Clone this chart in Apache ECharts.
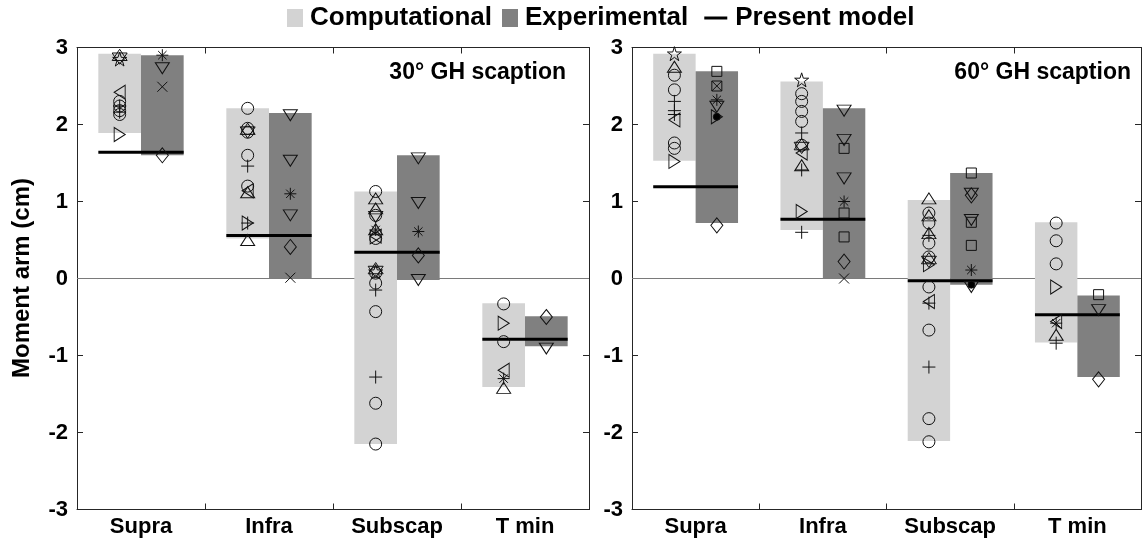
<!DOCTYPE html>
<html>
<head>
<meta charset="utf-8">
<script src="https://cdn.jsdelivr.net/npm/echarts@6/dist/echarts.min.js"></script>
<style>
  html, body { margin: 0; padding: 0; background: #fff; }
  #chart { width: 1143px; height: 539px; }
</style>
</head>
<body>
<div id="chart"></div>
<script>
// ---- data -------------------------------------------------------------
const categories = ['Supra', 'Infra', 'Subscap', 'T min'];
const yTicks = [-3, -2, -1, 0, 1, 2, 3];
const panelTitles = ['30° GH scaption', '60° GH scaption'];
const legendNames = ['Computational', 'Experimental', 'Present model'];
const yAxisTitle = 'Moment arm (cm)';

// 30° GH scaption: ranges of computational / experimental moment arms and the present model
const comp30Low  = [1.89, 0.52, -2.15, -1.41];
const comp30High = [2.92, 2.21, 1.13, -0.32];
const exp30Low   = [1.60, 0.00, -0.02, -0.88];
const exp30High  = [2.90, 2.15, 1.60, -0.49];
const model30    = [1.64, 0.56, 0.34, -0.79];

// individual studies: [muscle, marker, value]
const comp30Points = [
  ['Supra', 'hexagram', 2.88], ['Supra', 'pentagram', 2.85], ['Supra', 'triLeft', 2.42],
  ['Supra', 'circle', 2.30], ['Supra', 'circle', 2.24], ['Supra', 'circle', 2.18], ['Supra', 'circle', 2.13],
  ['Supra', 'plus', 2.24], ['Supra', 'plus', 2.16], ['Supra', 'triRight', 1.87],
  ['Infra', 'circle', 2.21], ['Infra', 'circle', 1.95], ['Infra', 'circle', 1.90], ['Infra', 'hexagram', 1.92],
  ['Infra', 'circle', 1.60], ['Infra', 'plus', 1.46], ['Infra', 'circle', 1.20], ['Infra', 'triUp', 1.12],
  ['Infra', 'triLeft', 1.14], ['Infra', 'triRight', 0.72], ['Infra', 'plus', 0.72], ['Infra', 'triUp', 0.50],
  ['Subscap', 'circle', 1.13], ['Subscap', 'triUp', 1.04], ['Subscap', 'triUp', 0.91], ['Subscap', 'circle', 0.82],
  ['Subscap', 'triDown', 0.80], ['Subscap', 'asterisk', 0.63], ['Subscap', 'triUp', 0.64], ['Subscap', 'triRight', 0.54],
  ['Subscap', 'circle', 0.52], ['Subscap', 'triLeft', 0.55], ['Subscap', 'hexagram', 0.11], ['Subscap', 'circle', 0.07],
  ['Subscap', 'pentagram', 0.09], ['Subscap', 'circle', -0.06], ['Subscap', 'plus', -0.15], ['Subscap', 'circle', -0.43],
  ['Subscap', 'plus', -1.28], ['Subscap', 'circle', -1.62], ['Subscap', 'circle', -2.15],
  ['T min', 'circle', -0.33], ['T min', 'triRight', -0.58], ['T min', 'circle', -0.82],
  ['T min', 'triLeft', -1.19], ['T min', 'asterisk', -1.30], ['T min', 'triUp', -1.42]
];
const exp30Points = [
  ['Supra', 'asterisk', 2.90], ['Supra', 'triDown', 2.73], ['Supra', 'cross', 2.49], ['Supra', 'diamond', 1.60],
  ['Infra', 'triDown', 2.12], ['Infra', 'triDown', 1.53], ['Infra', 'asterisk', 1.10], ['Infra', 'triDown', 0.82],
  ['Infra', 'diamond', 0.41], ['Infra', 'cross', 0.01],
  ['Subscap', 'triDown', 1.56], ['Subscap', 'triDown', 0.98], ['Subscap', 'asterisk', 0.61],
  ['Subscap', 'diamond', 0.30], ['Subscap', 'triDown', -0.02],
  ['T min', 'diamond', -0.50], ['T min', 'triDown', -0.91]
];

// 60° GH scaption
const comp60Low  = [1.53, 0.63, -2.11, -0.83];
const comp60High = [2.92, 2.56, 1.02, 0.73];
const exp60Low   = [0.72, 0.00, -0.08, -1.28];
const exp60High  = [2.69, 2.21, 1.37, -0.22];
const model60    = [1.19, 0.77, -0.03, -0.47];

const comp60Points = [
  ['Supra', 'pentagram', 2.92], ['Supra', 'triUp', 2.75], ['Supra', 'circle', 2.64], ['Supra', 'circle', 2.45],
  ['Supra', 'plus', 2.30], ['Supra', 'plus', 2.18], ['Supra', 'plus', 2.13], ['Supra', 'triLeft', 2.06],
  ['Supra', 'circle', 1.76], ['Supra', 'circle', 1.69], ['Supra', 'triRight', 1.52],
  ['Infra', 'pentagram', 2.58], ['Infra', 'circle', 2.40], ['Infra', 'circle', 2.30], ['Infra', 'circle', 2.17],
  ['Infra', 'circle', 2.04], ['Infra', 'plus', 1.89], ['Infra', 'circle', 1.73], ['Infra', 'hexagram', 1.72],
  ['Infra', 'triLeft', 1.63], ['Infra', 'triUp', 1.47], ['Infra', 'plus', 1.41], ['Infra', 'triRight', 0.87],
  ['Infra', 'plus', 0.60],
  ['Subscap', 'triUp', 1.04], ['Subscap', 'circle', 0.85], ['Subscap', 'triUp', 0.82], ['Subscap', 'circle', 0.72],
  ['Subscap', 'triUp', 0.59], ['Subscap', 'plus', 0.56], ['Subscap', 'circle', 0.46], ['Subscap', 'circle', 0.28],
  ['Subscap', 'hexagram', 0.24], ['Subscap', 'triRight', 0.18], ['Subscap', 'circle', -0.11], ['Subscap', 'triLeft', -0.30],
  ['Subscap', 'plus', -0.32], ['Subscap', 'circle', -0.67], ['Subscap', 'plus', -1.15], ['Subscap', 'circle', -1.82],
  ['Subscap', 'circle', -2.12],
  ['T min', 'circle', 0.72], ['T min', 'circle', 0.49], ['T min', 'circle', 0.19], ['T min', 'triRight', -0.11],
  ['T min', 'triLeft', -0.56], ['T min', 'asterisk', -0.58], ['T min', 'triUp', -0.73], ['T min', 'plus', -0.84]
];
const exp60Points = [
  ['Supra', 'square', 2.69], ['Supra', 'squareX', 2.50], ['Supra', 'asterisk', 2.32], ['Supra', 'triDown', 2.23],
  ['Supra', 'triRight', 2.10], ['Supra', 'dot', 2.10], ['Supra', 'diamond', 0.69],
  ['Infra', 'triDown', 2.18], ['Infra', 'triDown', 1.80], ['Infra', 'square', 1.69], ['Infra', 'triDown', 1.30],
  ['Infra', 'asterisk', 1.00], ['Infra', 'square', 0.85], ['Infra', 'square', 0.54], ['Infra', 'diamond', 0.22],
  ['Infra', 'cross', 0.00],
  ['Subscap', 'square', 1.37], ['Subscap', 'triDown', 1.10], ['Subscap', 'diamond', 1.08], ['Subscap', 'triDown', 0.76],
  ['Subscap', 'square', 0.73], ['Subscap', 'square', 0.43], ['Subscap', 'asterisk', 0.11], ['Subscap', 'triDown', -0.11],
  ['Subscap', 'dot', -0.08],
  ['T min', 'square', -0.21], ['T min', 'triDown', -0.41], ['T min', 'diamond', -1.31]
];

// ---- styling ----------------------------------------------------------
const FONT = '"Liberation Sans", Arial, sans-serif';
const COMP_COLOR = '#d3d3d3';
const EXP_COLOR = '#808080';
const AXIS_COLOR = '#262626';
const MARK_COLOR = '#111';
const HALF = 1 / 6;   // half width of one range bar, in category units

const SHAPES = {
  circle:    { symbol: 'circle', size: 12 },
  triUp:     { symbol: 'path://M5,0L10,9L0,9Z', size: [14, 11] },
  triDown:   { symbol: 'path://M0,0L10,0L5,9Z', size: [14, 11] },
  triRight:  { symbol: 'path://M0,0L9,5L0,10Z', size: [11, 14] },
  triLeft:   { symbol: 'path://M9,0L0,5L9,10Z', size: [11, 14] },
  diamond:   { symbol: 'path://M5,0L10,7L5,14L0,7Z', size: [12, 15] },
  square:    { symbol: 'path://M0,0L10,0L10,10L0,10Z', size: 10 },
  squareX:   { symbol: 'path://M0,0L10,0L10,10L0,10Z M0,0L10,10 M10,0L0,10', size: 10 },
  plus:      { symbol: 'path://M5,0L5,10M0,5L10,5', size: 13 },
  cross:     { symbol: 'path://M0,0L10,10M10,0L0,10', size: 10 },
  asterisk:  { symbol: 'path://M5,0L5,10M0,5L10,5M1.5,1.5L8.5,8.5M8.5,1.5L1.5,8.5', size: 12 },
  hexagram:  { symbol: 'path://M5,0L9.33,7.5L0.67,7.5Z M5,10L0.67,2.5L9.33,2.5Z', size: 15 },
  pentagram: { symbol: 'path://M5,0L6.12,3.455L9.755,3.455L6.817,5.59L7.939,9.045L5,6.91L2.061,9.045L3.183,5.59L0.245,3.455L3.877,3.455Z', size: 14 },
  dot:       { symbol: 'circle', size: 7, fill: '#000' }
};

const panels = [
  { compLow: comp30Low, compHigh: comp30High, expLow: exp30Low, expHigh: exp30High, model: model30, comp: comp30Points, exp: exp30Points },
  { compLow: comp60Low, compHigh: comp60High, expLow: exp60Low, expHigh: exp60High, model: model60, comp: comp60Points, exp: exp60Points }
];

const grids = [
  { left: 77, right: 554, top: 47.5, bottom: 29.5 },
  { left: 632, right: 2, top: 47.5, bottom: 29.5 }
];

// ---- axes -------------------------------------------------------------
const xAxes = [];
const yAxes = [];
grids.forEach((g, p) => {
  const tick = { show: true, inside: true, length: 6, alignWithLabel: false, lineStyle: { color: AXIS_COLOR, width: 1 } };
  const line = { show: true, onZero: false, lineStyle: { color: AXIS_COLOR, width: 1 } };
  xAxes.push({
    type: 'category', gridIndex: p, position: 'bottom', data: categories, boundaryGap: true,
    axisLine: line, axisTick: tick,
    axisLabel: { color: '#000', fontFamily: FONT, fontWeight: 'bold', fontSize: 22, margin: 6, interval: 0 },
    splitLine: { show: false }
  });
  xAxes.push({
    type: 'category', gridIndex: p, position: 'top', data: categories, boundaryGap: true,
    axisLine: line, axisTick: tick, axisLabel: { show: false }, splitLine: { show: false }
  });
  xAxes.push({ type: 'value', gridIndex: p, min: 0.5, max: 4.5, show: false });
  yAxes.push({
    type: 'value', gridIndex: p, position: 'left',
    min: yTicks[0], max: yTicks[yTicks.length - 1], interval: 1,
    axisLine: line, axisTick: { show: true, inside: true, length: 6, lineStyle: { color: AXIS_COLOR } },
    axisLabel: { color: '#000', fontFamily: FONT, fontWeight: 'bold', fontSize: 22, margin: 9 },
    splitLine: { show: false }
  });
  yAxes.push({
    type: 'value', gridIndex: p, position: 'right',
    min: yTicks[0], max: yTicks[yTicks.length - 1], interval: 1,
    axisLine: line, axisTick: { show: true, inside: true, length: 6, lineStyle: { color: AXIS_COLOR } },
    axisLabel: { show: false }, splitLine: { show: false }
  });
});

// ---- series -----------------------------------------------------------
function rangeBars(p, lows, highs, offset, color, name) {
  return {
    type: 'custom', name, xAxisIndex: 3 * p + 2, yAxisIndex: 2 * p, z: 2, silent: true,
    data: categories.map((c, i) => [i + 1, lows[i], highs[i]]),
    encode: { x: 0, y: [1, 2] },
    renderItem(params, api) {
      const x = api.value(0) + offset;
      const a = api.coord([x - HALF, api.value(2)]);
      const b = api.coord([x + HALF, api.value(1)]);
      return { type: 'rect', shape: { x: a[0], y: a[1], width: b[0] - a[0], height: b[1] - a[1] }, style: { fill: color } };
    }
  };
}

function modelLines(p, values) {
  return {
    type: 'custom', name: 'Present model', xAxisIndex: 3 * p + 2, yAxisIndex: 2 * p, z: 3, silent: true,
    data: categories.map((c, i) => [i + 1, values[i]]),
    encode: { x: 0, y: 1 },
    renderItem(params, api) {
      const a = api.coord([api.value(0) - 2 * HALF, api.value(1)]);
      const b = api.coord([api.value(0) + 2 * HALF, api.value(1)]);
      return { type: 'line', shape: { x1: a[0], y1: a[1], x2: b[0], y2: b[1] }, style: { stroke: '#000', lineWidth: 3 } };
    }
  };
}

function zeroLine(p) {
  return {
    type: 'line', xAxisIndex: 3 * p + 2, yAxisIndex: 2 * p, z: 1, silent: true, symbol: 'none',
    data: [[0.5, 0], [4.5, 0]], lineStyle: { color: '#7a7a7a', width: 1 }, animation: false
  };
}

function pointSeries(p, points, offset) {
  const groups = {};
  points.forEach(([cat, shape, v]) => {
    (groups[shape] = groups[shape] || []).push([categories.indexOf(cat) + 1 + offset, v]);
  });
  return Object.keys(groups).map(shape => ({
    type: 'scatter', xAxisIndex: 3 * p + 2, yAxisIndex: 2 * p, z: 4, silent: true,
    symbol: SHAPES[shape].symbol, symbolSize: SHAPES[shape].size,
    itemStyle: { color: SHAPES[shape].fill || 'rgba(0,0,0,0)', borderColor: MARK_COLOR, borderWidth: 1, opacity: 1 },
    emphasis: { disabled: true },
    data: groups[shape]
  }));
}

const series = [];
panels.forEach((d, p) => {
  series.push(zeroLine(p));
  series.push(rangeBars(p, d.compLow, d.compHigh, -HALF, COMP_COLOR, 'Computational'));
  series.push(rangeBars(p, d.expLow, d.expHigh, HALF, EXP_COLOR, 'Experimental'));
  series.push(modelLines(p, d.model));
  series.push(...pointSeries(p, d.comp, -HALF));
  series.push(...pointSeries(p, d.exp, HALF));
});

// ---- legend, titles and axis name -------------------------------------
const ctx = document.createElement('canvas').getContext('2d');
const LEG_FONT = 'bold 26px ' + FONT;
ctx.font = LEG_FONT;
const w = s => ctx.measureText(s).width;

const legY = 18;
const legendChildren = [];
let cx = 287;
[COMP_COLOR, EXP_COLOR].forEach((col, k) => {
  legendChildren.push({ type: 'rect', shape: { x: cx, y: legY - 9, width: 16, height: 18 }, style: { fill: col } });
  cx += 23;
  legendChildren.push({ type: 'text', x: cx, y: legY, style: { text: legendNames[k], font: LEG_FONT, fill: '#000', textVerticalAlign: 'middle', textAlign: 'left' } });
  cx += w(legendNames[k]) + 10;
});
cx += 6;
legendChildren.push({ type: 'line', shape: { x1: cx, y1: legY, x2: cx + 23, y2: legY }, style: { stroke: '#000', lineWidth: 3 } });
cx += 31;
legendChildren.push({ type: 'text', x: cx, y: legY, style: { text: legendNames[2], font: LEG_FONT, fill: '#000', textVerticalAlign: 'middle', textAlign: 'left' } });

const graphic = legendChildren.slice();
graphic.push({ type: 'text', x: 566, y: 73, style: { text: panelTitles[0], font: 'bold 23px ' + FONT, fill: '#000', textAlign: 'right', textVerticalAlign: 'middle' } });
graphic.push({ type: 'text', x: 1131, y: 73, style: { text: panelTitles[1], font: 'bold 23px ' + FONT, fill: '#000', textAlign: 'right', textVerticalAlign: 'middle' } });
graphic.push({ type: 'text', x: 22, y: 278, rotation: Math.PI / 2, style: { text: yAxisTitle, font: 'bold 24px ' + FONT, fill: '#000', textAlign: 'center', textVerticalAlign: 'middle' } });

const chart = echarts.init(document.getElementById('chart'), null, { renderer: 'canvas' });
chart.setOption({
  animation: false,
  backgroundColor: '#fff',
  grid: grids,
  xAxis: xAxes,
  yAxis: yAxes,
  series,
  graphic
});
</script>
</body>
</html>
